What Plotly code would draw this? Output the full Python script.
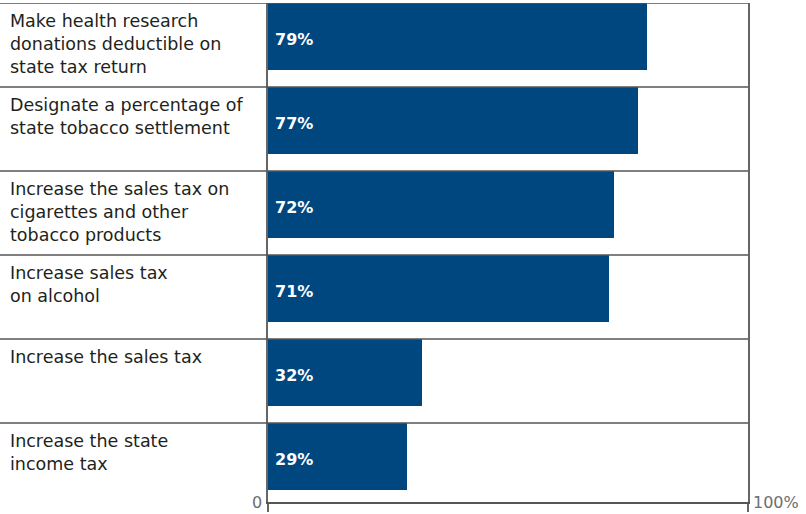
import plotly.graph_objects as go

categories = [
    "Make health research<br>donations deductible on<br>state tax return",
    "Designate a percentage of<br>state tobacco settlement",
    "Increase the sales tax on<br>cigarettes and other<br>tobacco products",
    "Increase sales tax<br>on alcohol",
    "Increase the sales tax",
    "Increase the state<br>income tax",
]
values = [79, 77, 72, 71, 32, 29]
axis_labels = ["0", "100%"]

W, H = 806, 514
x_dom = [268 / W, 748 / W]
positions = list(range(len(categories)))
bar_width = 67 / 84
bottom_edge = len(categories) - 0.5 - 5 / 84  # last band slightly shorter

bar_color = "#00467f"
text_color = "#231f20"
line_color = "#555555"
FONT = "DejaVu Sans"

fig = go.Figure()
fig.add_trace(go.Bar(
    x=values,
    y=positions,
    orientation="h",
    width=bar_width,
    offset=-0.5,
    marker=dict(color=bar_color, line=dict(width=0)),
    hoverinfo="skip",
))

shapes = []
for p in positions:
    shapes.append(dict(type="line", xref="paper", yref="y",
                       x0=0, x1=x_dom[1], y0=p - 0.5, y1=p - 0.5,
                       line=dict(color=line_color, width=1.5)))

annotations = []
for p, c in zip(positions, categories):
    annotations.append(dict(
        xref="paper", yref="y", x=8 / W, y=p - 0.5,
        xanchor="left", yanchor="top", yshift=-6,
        text=c, showarrow=False, align="left",
        font=dict(family=FONT, size=17.5, color=text_color),
    ))
for p, v in zip(positions, values):
    annotations.append(dict(
        xref="x", yref="y", x=0, y=p - 0.5 + bar_width / 2,
        xanchor="left", yanchor="middle", xshift=5, yshift=-3,
        text=f"<b>{v}%</b>", showarrow=False,
        font=dict(family=FONT, size=16, color="white"),
    ))
annotations.append(dict(xref="x", yref="paper", x=0, y=0, xanchor="right",
                        yanchor="middle", xshift=-4, text=axis_labels[0],
                        showarrow=False,
                        font=dict(family=FONT, size=16, color="#6d6e71")))
annotations.append(dict(xref="x", yref="paper", x=100, y=0, xanchor="left",
                        yanchor="middle", xshift=3, text=axis_labels[1],
                        showarrow=False,
                        font=dict(family=FONT, size=16, color="#6d6e71")))

fig.update_layout(
    width=W, height=H,
    margin=dict(l=0, r=0, t=3, b=12),
    paper_bgcolor="white", plot_bgcolor="white",
    showlegend=False,
    bargap=0,
    xaxis=dict(domain=x_dom, range=[0, 100], showgrid=False, zeroline=False,
               showline=True, linecolor=line_color, linewidth=1.5,
               ticks="outside", tickvals=[0, 100], ticklen=8, tickwidth=2,
               tickcolor="#666666", showticklabels=False, fixedrange=True),
    yaxis=dict(range=[bottom_edge, -0.5], showgrid=False, zeroline=False,
               showline=True, mirror=True, linecolor="#666666", linewidth=2,
               showticklabels=False, ticks="", fixedrange=True),
    shapes=shapes,
    annotations=annotations,
)

fig.write_html("out.html", config={"displayModeBar": False},
               post_script="document.body.style.margin='0';")
